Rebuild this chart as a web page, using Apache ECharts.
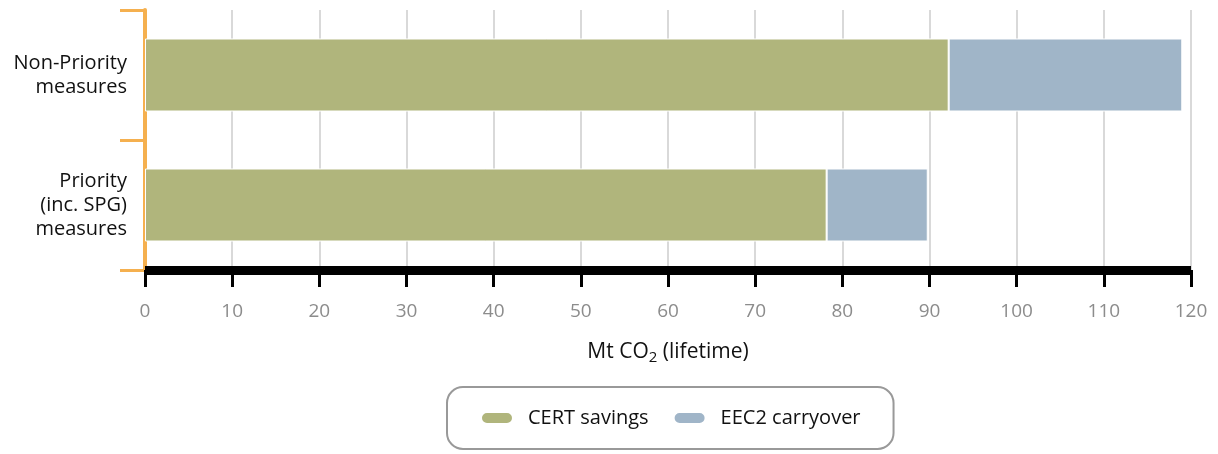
<!DOCTYPE html>
<html><head><meta charset="utf-8">
<script src="https://cdn.jsdelivr.net/npm/echarts@6/dist/echarts.min.js"></script>
<style>html,body{margin:0;padding:0;background:#fff}#c{width:1218px;height:454px}</style>
</head><body><div id="c"></div>
<script>
const categories = ['Priority\n(inc. SPG)\nmeasures', 'Non-Priority\nmeasures'];
const certSavings = [78.2, 92.2];
const eec2Carryover = [11.6, 26.8];
const xTicks = {min: 0, max: 120, interval: 10};
const FONT = 'Open Sans';
const capsule = 'path://M6,0 L26,0 A6,6 0 0 1 26,12 L6,12 A6,6 0 0 1 6,0 Z';
const chart = echarts.init(document.getElementById('c'));
chart.setOption({
  animation: false,
  textStyle: {fontFamily: FONT},
  grid: {left: 145, right: 27, top: 10, bottom: 184},
  xAxis: {
    type: 'value', min: xTicks.min, max: xTicks.max, interval: xTicks.interval,
    axisLine: {show: true, lineStyle: {color: '#000', width: 9, cap: 'butt'}},
    axisTick: {show: true, length: 17, lineStyle: {color: '#000', width: 3, cap: 'butt'}},
    axisLabel: {color: '#8c8c8c', fontSize: 19, margin: 32, fontFamily: FONT},
    splitLine: {show: true, lineStyle: {color: '#d9d9d9', width: 2}},
    name: '{a|Mt CO}{s|2}{a| (lifetime)}',
    nameLocation: 'middle', nameGap: 70,
    nameTextStyle: {rich: {
      a: {fontSize: 21, color: '#111', fontFamily: FONT},
      s: {fontSize: 15, color: '#111', fontFamily: FONT, padding: [10, 0, 0, 0]}
    }}
  },
  yAxis: {
    type: 'category', data: categories,
    axisLine: {show: true, lineStyle: {color: '#f5b04f', width: 4}},
    axisTick: {show: true, length: 25, lineStyle: {color: '#f5b04f', width: 3}},
    axisLabel: {color: '#111', fontSize: 20, margin: 18, lineHeight: 24, align: 'right', fontFamily: FONT},
    splitLine: {show: false}
  },
  legend: {
    left: 447, top: 387,
    padding: [21, 33, 21, 33],
    borderColor: '#999', borderWidth: 2, borderRadius: 16,
    itemWidth: 32, itemHeight: 12, itemGap: 24, icon: capsule,
    textStyle: {fontSize: 20, color: '#111', fontFamily: FONT, padding: [0, 0, 0, 10]},
    data: ['CERT savings', 'EEC2 carryover']
  },
  series: [
    {name: 'CERT savings', type: 'bar', stack: 't', data: certSavings, barWidth: 73,
     itemStyle: {color: '#b0b57c', borderColor: '#fff', borderWidth: 1}},
    {name: 'EEC2 carryover', type: 'bar', stack: 't', data: eec2Carryover, barWidth: 73,
     itemStyle: {color: '#a0b5c8', borderColor: '#fff', borderWidth: 1}}
  ]
});
</script></body></html>
